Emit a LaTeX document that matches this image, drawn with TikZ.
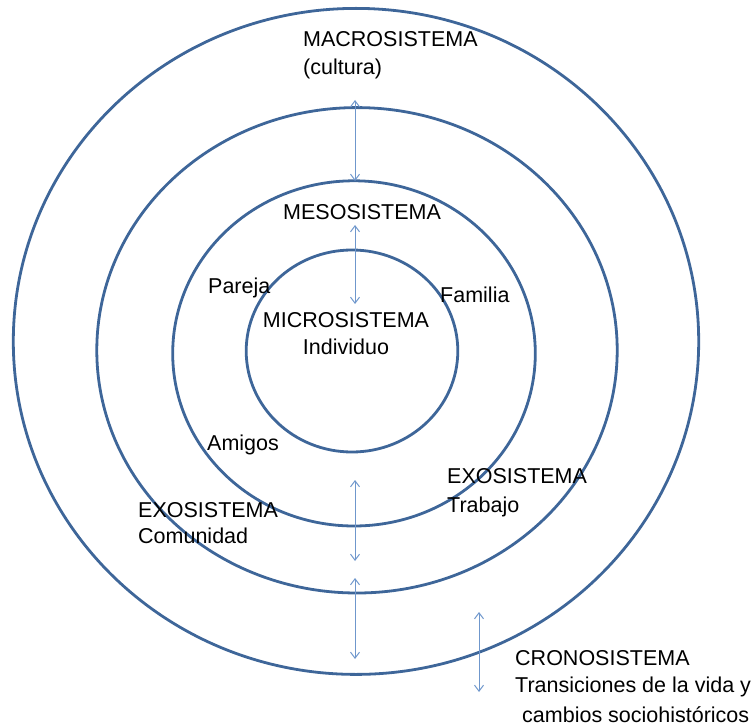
\documentclass[tikz,border=0pt]{standalone}
\usepackage{fontspec}
\setmainfont{Liberation Sans}
\usetikzlibrary{arrows.meta}
\definecolor{ringblue}{HTML}{3E6699}
\definecolor{linkblue}{HTML}{6F97CC}
\tikzset{
  ring/.style={draw=ringblue, line width=2.8pt},
  link/.style={draw=linkblue, line width=1pt, {Straight Barb[length=6pt,width=9pt]}-{Straight Barb[length=6pt,width=9pt]}},
  lbl/.style={inner sep=0pt, anchor=base west, align=left, font=\fontsize{21.5}{28}\selectfont}
}
\begin{document}
\begin{tikzpicture}[x=1pt,y=-1pt]
    \useasboundingbox (0,0) rectangle (755,727);
    % rings, outer to inner
    \foreach \cx/\cy/\rx/\ry in {356/341.4/342.7/333, 357/350.3/260.2/242.7, 354/353.4/181.3/172.6, 352/351/105.8/101}{
        \draw[ring] (\cx,\cy) ellipse [x radius=\rx pt, y radius=\ry pt];
    }
    % double arrows between the rings
    \foreach \x/\ya/\yb [count=\i] in {355/100/181, 355/225/304, 355/480/561, 355/578/659, 479/612/692}{
        \coordinate (up\i) at (\x,\ya);
        \coordinate (dn\i) at (\x,\yb);
        \draw[link] (up\i) -- (dn\i);
    }
    % labels, placed at the baseline of their last line
    \node[lbl] (macro) at (303,75) {MACROSISTEMA\\(cultura)};
    \node[lbl] (meso) at (283,220) {MESOSISTEMA};
    \node[lbl, anchor=base, align=center] (micro) at (346,355) {MICROSISTEMA\\Individuo};
    \node[lbl] (pareja) at (208,294) {Pareja};
    \node[lbl] (familia) at (440,303) {Familia};
    \node[lbl] (amigos) at (207,450) {Amigos};
    \node[lbl] (exocom) at (138,543) {EXOSISTEMA\\[-2pt]Comunidad};
    \node[lbl] (exotrab) at (447,512) {EXOSISTEMA\\[1pt]Trabajo};
    \node[lbl] (crono) at (515,722) {CRONOSISTEMA\\[-1pt]Transiciones de la vida y\\[2pt]\hspace*{7pt}cambios sociohistóricos};
\end{tikzpicture}
\end{document}
